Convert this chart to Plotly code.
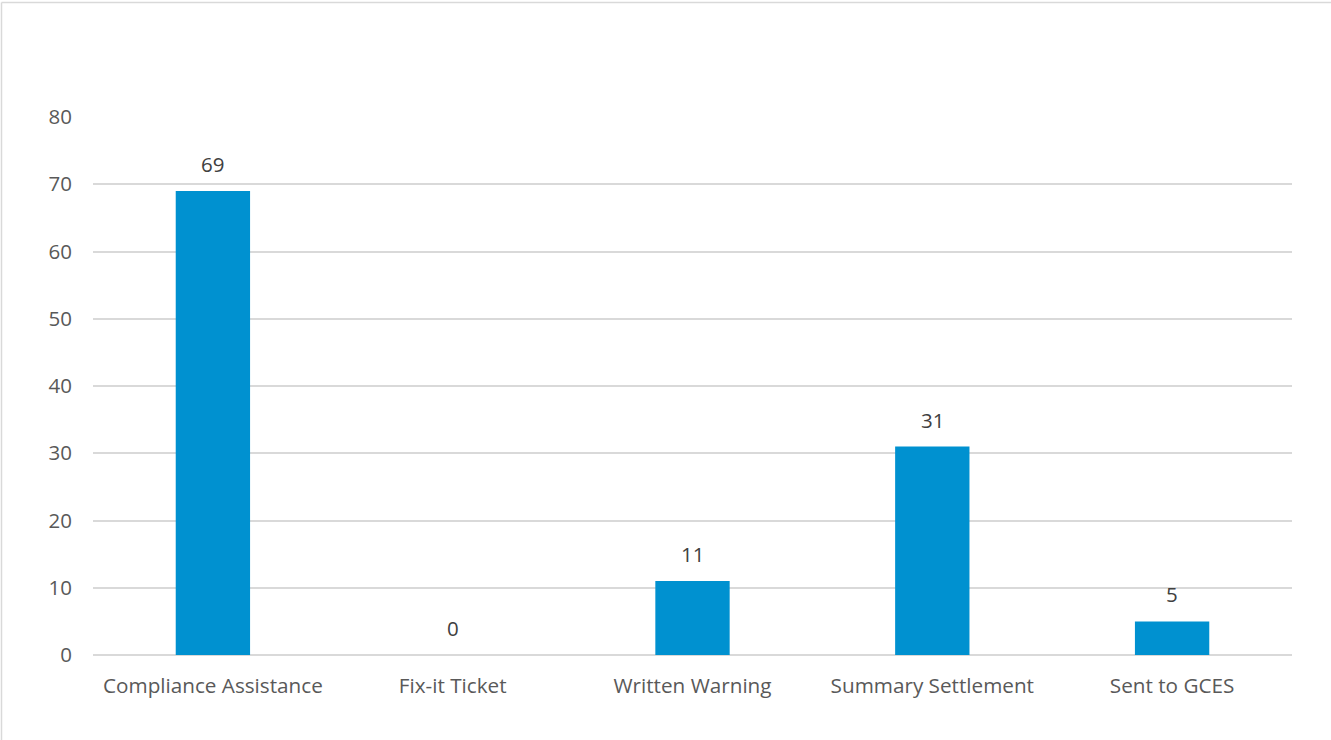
import plotly.graph_objects as go

categories = ["Compliance Assistance", "Fix-it Ticket", "Written Warning", "Summary Settlement", "Sent to GCES"]
values = [69, 0, 11, 31, 5]
y_ticks = [0, 10, 20, 30, 40, 50, 60, 70, 80]

W, H = 1331, 740
ml, mr, mt, mb = 93, 39, 117, 85
pw = W - ml - mr
ph = H - mt - mb

FONT = "Open Sans"
fig = go.Figure(go.Bar(
    x=categories, y=values, width=0.31,
    marker=dict(color="#0091D0", line=dict(width=0)),
    hoverinfo="x+y",
))

for c, v in zip(categories, values):
    fig.add_annotation(x=c, y=v, text=str(v), showarrow=False,
                       xanchor="center", yanchor="bottom", yshift=11,
                       font=dict(family=FONT, size=20.5, color="#404040"))

# chart-area border (left and top edges visible)
fig.add_shape(type="line", xref="paper", yref="paper",
              x0=(1.5 - ml) / pw, x1=(1.5 - ml) / pw,
              y0=-(mb) / ph, y1=1 + (mt - 2.5) / ph,
              line=dict(color="#D9D9D9", width=1.5), layer="below")
fig.add_shape(type="line", xref="paper", yref="paper",
              x0=(1.5 - ml) / pw, x1=(W - ml) / pw,
              y0=1 + (mt - 2.5) / ph, y1=1 + (mt - 2.5) / ph,
              line=dict(color="#D9D9D9", width=1.5), layer="below")

fig.update_layout(
    width=W, height=H,
    margin=dict(l=ml, r=mr, t=mt, b=mb),
    paper_bgcolor="white", plot_bgcolor="white",
    font=dict(family=FONT, size=20.5, color="#595959"),
    showlegend=False,
    xaxis=dict(showgrid=False, showline=False, zeroline=False, ticks="",
               ticklabelstandoff=16,
               tickfont=dict(family=FONT, size=20.7, color="#595959")),
    yaxis=dict(range=[0, 80], tickvals=y_ticks, showgrid=True, gridcolor="#D9D9D9",
               gridwidth=1.6, zeroline=True, zerolinecolor="#D9D9D9", zerolinewidth=1.6,
               showline=False, ticks="", ticklabelstandoff=20,
               tickfont=dict(family=FONT, size=20.5, color="#595959")),
)

fig.write_html("out.html", config={"displayModeBar": False},
               post_script="document.body.style.margin='0';document.body.style.overflow='hidden';")
